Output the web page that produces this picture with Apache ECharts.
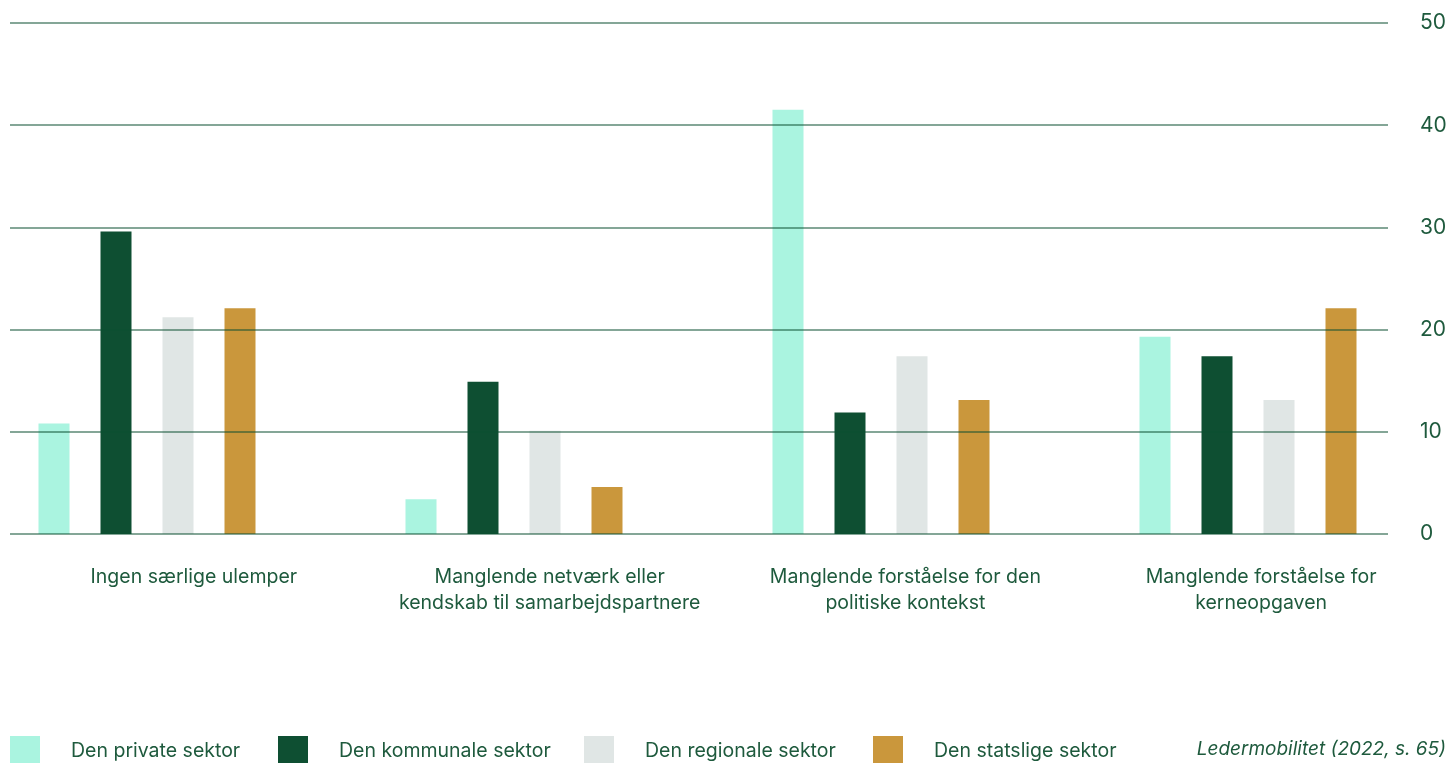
<!DOCTYPE html>
<html>
<head>
<meta charset="utf-8">
<script src="https://cdn.jsdelivr.net/npm/echarts@6/dist/echarts.min.js"></script>
<style>
  html, body { margin: 0; padding: 0; background: #fff; }
  #chart { width: 1449px; height: 763px; }
</style>
</head>
<body>
<div id="chart"></div>
<script>
const categories = [
  'Ingen særlige ulemper',
  'Manglende netværk eller\nkendskab til samarbejdspartnere',
  'Manglende forståelse for den\npolitiske kontekst',
  'Manglende forståelse for\nkerneopgaven'
];
const seriesNames = ['Den private sektor', 'Den kommunale sektor', 'Den regionale sektor', 'Den statslige sektor'];
const privat = [10.8, 3.4, 41.5, 19.3];
const kommunal = [29.6, 14.9, 11.9, 17.4];
const regional = [21.2, 10.1, 17.4, 13.1];
const statslig = [22.1, 4.6, 13.1, 22.1];
const yTicks = [0, 10, 20, 30, 40, 50];
const source = 'Ledermobilitet (2022, s. 65)';

const colors = ['#aaf4e0', '#0e4f32', '#e0e6e5', '#ca973c'];
const textColor = '#1e5a3d';
const font = 'Inter';

const chart = echarts.init(document.getElementById('chart'));
const values = [privat, kommunal, regional, statslig];

// one legend per item so each can sit at its own x
let legends = [];
const legendLeft = [10, 278, 584, 873];
seriesNames.forEach((n, i) => {
  legends.push({
    data: [n],
    left: legendLeft[i],
    top: 736,
    padding: 0,
    itemWidth: 30,
    itemHeight: 30,
    icon: 'rect',
    selectedMode: false,
    textStyle: { color: textColor, fontFamily: font, fontSize: 19.5, padding: [0, 0, 0, 26] }
  });
});

const option = {
  animation: false,
  color: colors,
  legend: legends,
  graphic: [{
    type: 'text',
    right: 3,
    top: 740,
    style: { text: source, fill: textColor, fontFamily: font, fontSize: 19, fontStyle: 'italic' }
  }],
  grid: [
    // gridlines + y axis
    { left: 10, right: 61, top: 23, bottom: 229, outerBoundsMode: 'none' },
    // bars
    { left: -36.5, width: 1468, top: 23, bottom: 229, outerBoundsMode: 'none' },
    // category labels
    { left: 16, right: 10, top: 23, bottom: 229, outerBoundsMode: 'none' }
  ],
  xAxis: [
    { gridIndex: 0, type: 'category', data: categories, show: false },
    { gridIndex: 1, type: 'category', data: categories, show: false },
    {
      gridIndex: 2, type: 'category', data: categories,
      axisLine: { show: false }, axisTick: { show: false },
      axisLabel: { color: textColor, fontFamily: font, fontSize: 19.5, lineHeight: 26, margin: 30, interval: 0 }
    }
  ],
  yAxis: [
    {
      gridIndex: 0, type: 'value', position: 'right', min: yTicks[0], max: yTicks[yTicks.length - 1], interval: 10,
      z: 5,
      axisLine: { show: false }, axisTick: { show: false },
      splitLine: { lineStyle: { color: 'rgba(14,79,50,0.68)', width: 1.5 } },
      axisLabel: { color: textColor, fontFamily: font, fontSize: 21, margin: 32 }
    },
    { gridIndex: 1, type: 'value', min: 0, max: 50, show: false },
    { gridIndex: 2, type: 'value', min: 0, max: 50, show: false }
  ],
  series: seriesNames.map((n, i) => ({
    name: n,
    type: 'bar',
    xAxisIndex: 1,
    yAxisIndex: 1,
    barWidth: 31,
    barGap: '100%',
    data: values[i]
  }))
};
chart.setOption(option);
</script>
</body>
</html>
